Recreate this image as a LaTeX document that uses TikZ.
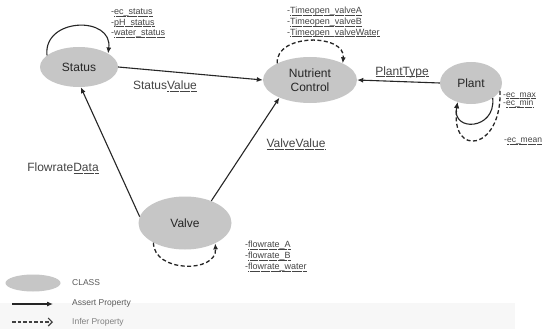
\documentclass[tikz,border=0pt]{standalone}
\usepackage{fontspec}
\setmainfont{Liberation Sans}
\usetikzlibrary{shapes.geometric,arrows.meta}

\definecolor{classgray}{HTML}{C6C6C6}
\definecolor{textgray}{HTML}{444444}

% punktierte Unterstreichung
\newcommand{\punktlinie}[1]{\leavevmode\setbox0\hbox{#1}%
  \rlap{\raisebox{-1.8pt}{\hbox to \wd0{\xleaders\hbox to 1.1pt{\hss\rule{0.6pt}{0.45pt}\hss}\hfill}}}\box0}
\newcommand{\attr}[1]{-\punktlinie{#1}}

\tikzset{
  klasse/.style={ellipse, fill=classgray, inner sep=0pt, text=black!85,
    font=\fontsize{12}{14.5}\selectfont, align=center},
  assert/.style={line width=1.1pt, black!85, -{Latex[length=6pt,width=5pt]}},
  infer/.style={line width=1.3pt, black!85, dash pattern=on 4pt off 2.5pt,
    -{Latex[length=6pt,width=5pt]}},
  kante/.style={text=textgray, font=\fontsize{12}{14}\selectfont},
  attrliste/.style={text=textgray, align=left, inner sep=0pt,
    font=\fontsize{9}{10.8}\selectfont},
  legende/.style={anchor=west, inner sep=0pt, text=black!65,
    font=\fontsize{8.5}{10}\selectfont}
}

\begin{document}
\begin{tikzpicture}[x=1pt,y=-1pt]
  % Rahmen
  \useasboundingbox (0,0) rectangle (543,329);
  \fill[white] (0,0) rectangle (543,329);
  \fill[black!3] (0,303) rectangle (515,329);

  % Klassen
  \node[klasse, minimum width=78pt, minimum height=40pt] (status) at (79,67) {Status};
  \node[klasse, minimum width=94pt, minimum height=46pt] (nc) at (310,80) {Nutrient\\Control};
  \node[klasse, minimum width=62pt, minimum height=42pt] (plant) at (471,83) {Plant};
  \node[klasse, minimum width=93pt, minimum height=53pt] (valve) at (185,223) {Valve};

  % Beziehungen
  \draw[assert] (status.east) -- (nc.west);
  \draw[assert] (plant.west) -- (nc.east);
  \draw[assert] (valve.40) -- (nc.210);
  \draw[assert] (valve.172) -- (status.-85);

  \node[kante] (sv) at (165,86) {Status\punktlinie{Value}};
  \node[kante] (pt) at (402,72) {\punktlinie{PlantType}};
  \node[kante] (vv) at (296,144) {\punktlinie{ValveValue}};
  \node[kante] (fd) at (63,168) {Flowrate\punktlinie{Data}};

  % Schleifen
  \draw[assert] (status.160) .. controls +(-4,-38) and +(5,-38) .. (status.25);
  \draw[infer] (nc.153) .. controls +(-2,-30) and +(3,-30) .. (nc.27);
  \draw[assert] (plant.325) .. controls +(3,32) and +(-6,30) .. (plant.235);
  \draw[infer] (plant.345) .. controls +(2,60) and +(-8,56) .. (plant.235);
  \draw[infer] (valve.212) .. controls +(0,30) and +(2,30) .. (valve.326);

  % Attribute
  \node[attrliste, anchor=west] (statusattr) at (111,23)
    {\attr{ec\_status}\\\attr{pH\_status}\\\attr{water\_status}};
  \node[attrliste, anchor=west] (ncattr) at (287,22)
    {\attr{Timeopen\_valveA}\\\attr{Timeopen\_valveB}\\\attr{Timeopen\_valveWater}};
  \node[attrliste, anchor=west, font=\fontsize{8.5}{8.5}\selectfont] (plantattr) at (503,100)
    {\attr{ec\_max}\\\attr{ec\_min}};
  \node[attrliste, anchor=west, font=\fontsize{8.5}{8.5}\selectfont] (meanattr) at (504,141)
    {\attr{ec\_mean}};
  \node[attrliste, anchor=west] (valveattr) at (245,256)
    {\attr{flowrate\_A}\\\attr{flowrate\_B}\\\attr{flowrate\_water}};

  % Legende
  \node[klasse, minimum width=55pt, minimum height=17pt] (leg) at (33,283) {};
  \node[legende] (legclass) at (72,283) {CLASS};
  \coordinate (a1) at (12,304);
  \coordinate (a2) at (53,304);
  \coordinate (b1) at (12,322);
  \coordinate (b2) at (53,322);
  \draw[assert] (a1) -- (a2);
  \draw[line width=1.1pt, black!75, dash pattern=on 3.5pt off 2pt, -{Straight Barb[length=4pt]}] (b1) -- (b2);
  \node[legende] (legassert) at (72,303) {Assert Property};
  \node[legende, text=black!50] (leginfer) at (72,322) {Infer Property};
\end{tikzpicture}
\end{document}
